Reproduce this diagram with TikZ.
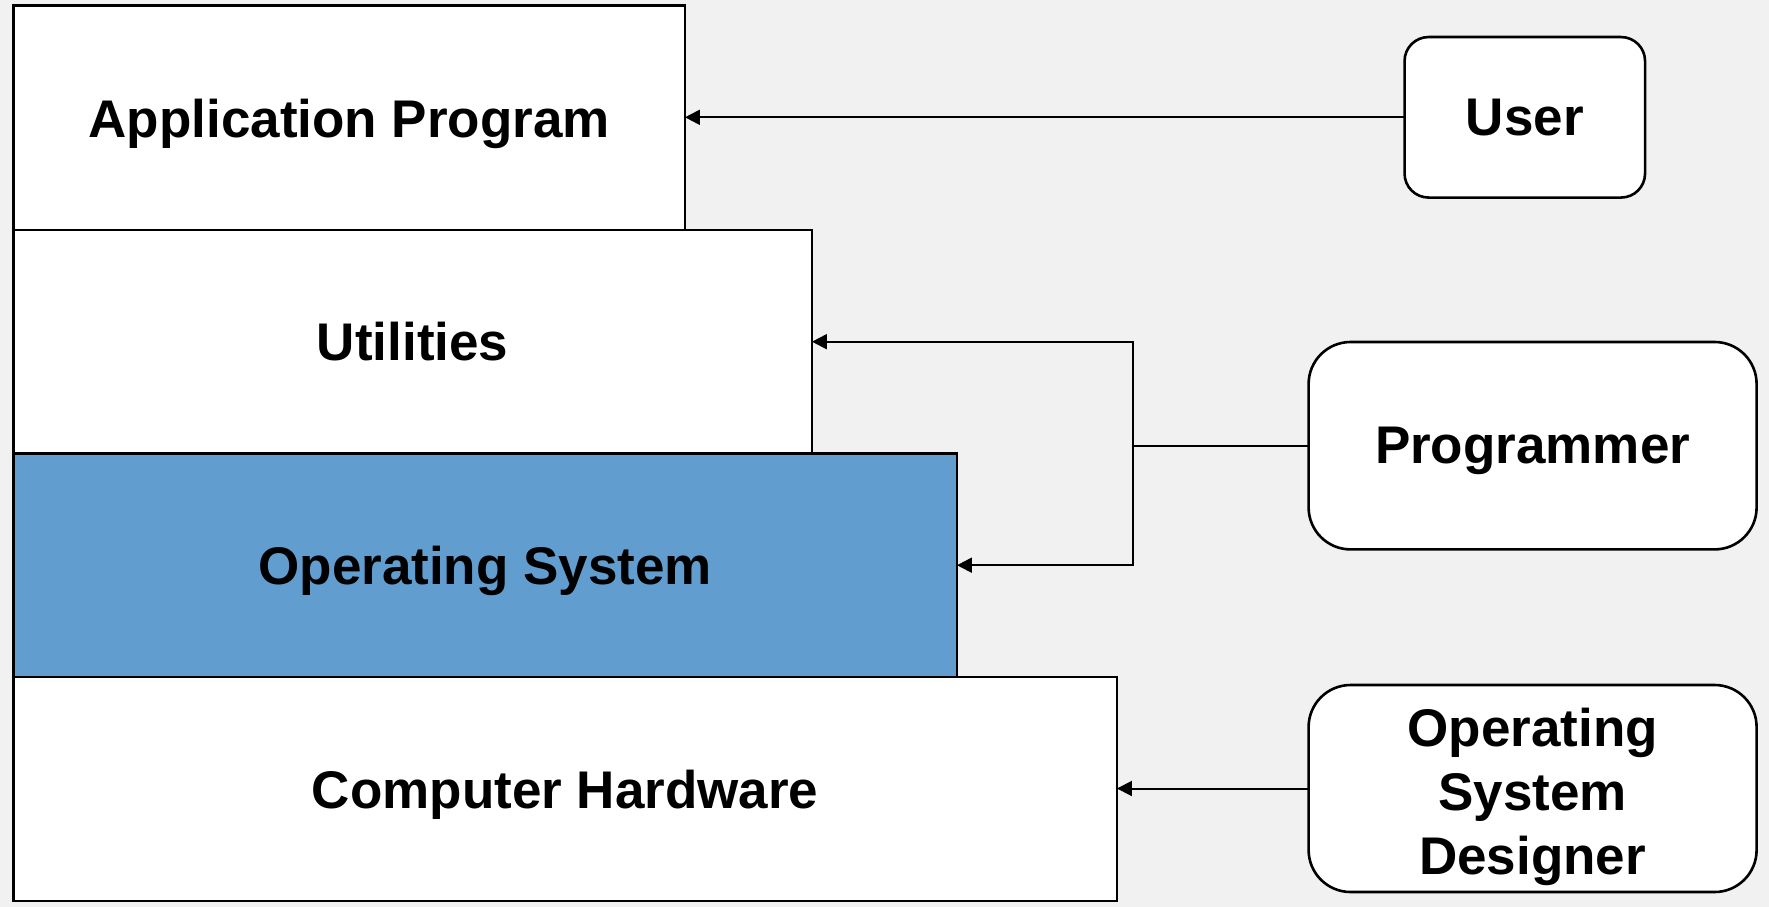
\documentclass[tikz,border=0pt]{standalone}
\usepackage{fontspec}
\setmainfont{Liberation Sans}
\usetikzlibrary{arrows.meta}
\definecolor{bg}{RGB}{241,241,241}
\definecolor{osblue}{RGB}{98,157,208}
\begin{document}
\begin{tikzpicture}[x=1pt,y=-1pt,
  boxfont/.style={font=\fontsize{53}{64}\selectfont\bfseries},
  layerbox/.style={draw=black, line width=2.8pt, fill=white, inner sep=0pt, outer sep=0pt,
    text depth=-2pt, boxfont},
  actor/.style={draw=black, line width=2.6pt, fill=white, rounded corners=#1, inner sep=0pt, outer sep=0pt,
    align=center, text depth=-2pt, boxfont},
  conn/.style={line width=2pt, -{Triangle[length=15pt,width=15pt]}}]
\fill[bg] (0,0) rectangle (1769,907);
\useasboundingbox (0,0) rectangle (1769,907);
% layers
\node[layerbox, minimum width=671.5pt, minimum height=224.4pt] (app) at (349.2,117.8) {Application Program};
\node[layerbox, minimum width=798.5pt, minimum height=223.5pt] (util) at (412.7,341.7) {Utilities};
\node[layerbox, fill=osblue, minimum width=943.5pt, minimum height=223.5pt] (os) at (485.2,565.2) {Operating System};
\node[layerbox, minimum width=1103.5pt, minimum height=224pt] (hw) at (565.2,789) {Computer Hardware};
% actors
\node[actor=24pt, minimum width=240.5pt, minimum height=160.5pt] (user) at (1524.8,117.3) {User};
\node[actor=42pt, minimum width=448pt, minimum height=207.4pt] (prog) at (1532.6,445.7) {Programmer};
\node[actor=42pt, minimum width=448pt, minimum height=207pt,
  label={[boxfont, align=center, inner sep=0pt, yshift=-8.5pt]center:Operating\\System\\Designer}] (des) at (1532.6,788.5) {};
% connectors
\coordinate (split) at (1133,445.7);
\draw[conn] (user.west) -- (app.east |- user.west);
\draw[line width=2pt] (prog.west) -- (split);
\draw[conn] (split) |- (util.east);
\draw[conn] (split) |- (os.east);
\draw[conn] (des.west) -- (hw.east |- des.west);
\end{tikzpicture}
\end{document}
